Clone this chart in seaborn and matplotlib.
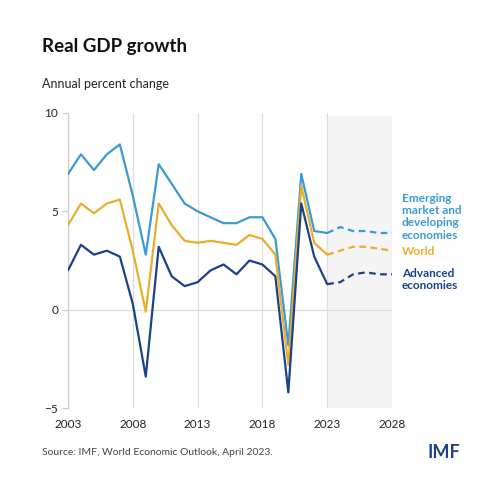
import pandas as pd
import matplotlib.pyplot as plt
import seaborn as sns

# Values (annual percent change)
years = list(range(2003, 2029))
emerging = [6.9, 7.9, 7.1, 7.9, 8.4, 5.8, 2.8, 7.4, 6.4, 5.4, 5.0, 4.7, 4.4, 4.4, 4.7, 4.7, 3.6,
            -1.8, 6.9, 4.0, 3.9, 4.2, 4.0, 4.0, 3.9, 3.9]
world = [4.3, 5.4, 4.9, 5.4, 5.6, 3.0, -0.1, 5.4, 4.3, 3.5, 3.4, 3.5, 3.4, 3.3, 3.8, 3.6, 2.8,
         -2.8, 6.3, 3.4, 2.8, 3.0, 3.2, 3.2, 3.1, 3.0]
advanced = [2.0, 3.3, 2.8, 3.0, 2.7, 0.3, -3.4, 3.2, 1.7, 1.2, 1.4, 2.0, 2.3, 1.8, 2.5, 2.3, 1.7,
            -4.2, 5.4, 2.7, 1.3, 1.4, 1.8, 1.9, 1.8, 1.8]
forecast_start = 2023

series = {
    'Emerging market and developing economies': (emerging, '#3a9bd2'),
    'World': (world, '#e8ae2c'),
    'Advanced economies': (advanced, '#1b4288'),
}

rows = []
for name, (vals, _) in series.items():
    for y, v in zip(years, vals):
        rows.append({'Year': y, 'Growth': v, 'Series': name})
df = pd.DataFrame(rows)
palette = {name: c for name, (_, c) in series.items()}

sns.set_style('white')
plt.rcParams['font.family'] = ['Lato', 'DejaVu Sans']

fig = plt.figure(figsize=(5, 4.87), dpi=100)
ax = fig.add_axes([0.136, 0.162, 0.648, 0.606])

# forecast shading
ax.axvspan(forecast_start, 2028, ymin=0, ymax=0.99, color='#f4f4f4', zorder=0, lw=0)
for x in [2008, 2013, 2018, 2023, 2028]:
    ax.axvline(x, color='#dddddd', lw=0.9, zorder=1)
ax.axhline(0, color='#dddddd', lw=0.9, zorder=1)

hist = df[df['Year'] <= forecast_start]
fcst = df[df['Year'] >= forecast_start]
sns.lineplot(data=hist, x='Year', y='Growth', hue='Series', palette=palette,
             lw=1.6, legend=False, ax=ax, zorder=3)
sns.lineplot(data=fcst, x='Year', y='Growth', hue='Series', palette=palette,
             lw=1.6, legend=False, ax=ax, zorder=3, linestyle=(0, (3, 2)))

ax.set_xlim(2003, 2028)
ax.set_ylim(-5, 10)
ax.set_xticks([2003, 2008, 2013, 2018, 2023, 2028])
ax.set_yticks([-5, 0, 5, 10])
ax.set_xlabel('')
ax.set_ylabel('')
for s in ['top', 'right', 'bottom']:
    ax.spines[s].set_visible(False)
ax.spines['left'].set_color('#cccccc')
ax.spines['left'].set_linewidth(0.9)
ax.tick_params(axis='y', length=4, width=0.9, color='#cccccc', labelsize=8.5,
               labelcolor='#222222', pad=3, left=True)
ax.tick_params(axis='x', length=0, labelsize=8.5, labelcolor='#222222', pad=8)

# right-side labels
ax.text(1.03, 0.73, 'Emerging\nmarket and\ndeveloping\neconomies', transform=ax.transAxes,
        color=palette['Emerging market and developing economies'], fontsize=8.5,
        fontweight='bold', va='top', linespacing=1.15)
ax.text(1.03, 0.53, 'World', transform=ax.transAxes, color=palette['World'],
        fontsize=8.5, fontweight='bold', va='center')
ax.text(1.03, 0.475, 'Advanced\neconomies', transform=ax.transAxes,
        color=palette['Advanced economies'], fontsize=8.5, fontweight='bold',
        va='top', linespacing=1.15)

fig.text(0.084, 0.905, 'Real GDP growth', fontsize=13.5, fontweight='bold',
         color='#111111', va='center')
fig.text(0.084, 0.828, 'Annual percent change', fontsize=9, color='#222222', va='center')
fig.text(0.084, 0.07, 'Source: IMF, World Economic Outlook, April 2023.', fontsize=7.5,
         color='#444444', va='center')
fig.text(0.92, 0.07, 'IMF', fontsize=13, fontweight='bold', color='#1b4288',
         va='center', ha='right')

fig.savefig('out.png', dpi=100, facecolor='white')
